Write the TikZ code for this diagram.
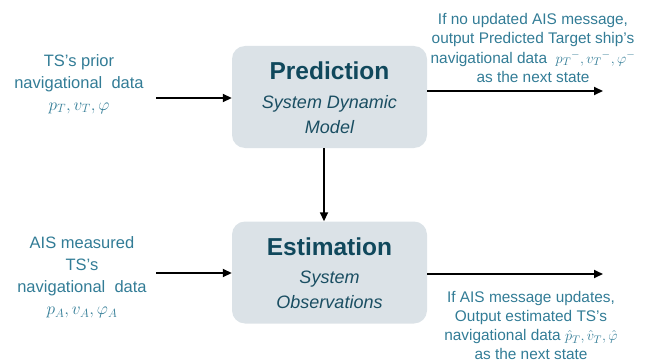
\documentclass[tikz,border=0pt]{standalone}
\usepackage{fontspec}
\setmainfont{Liberation Sans}
\usetikzlibrary{arrows.meta}
\definecolor{tealtext}{RGB}{50,124,150}
\definecolor{boxfill}{RGB}{219,226,231}
\definecolor{boxtitle}{RGB}{16,72,92}
\definecolor{boxsub}{RGB}{26,78,98}
\tikzset{
  stagebox/.style={fill=boxfill, draw=none, rounded corners=13pt,
    minimum width=195pt, minimum height=102pt, inner sep=0pt},
  titletext/.style={text=boxtitle, font=\fontsize{24.5}{28}\selectfont\bfseries},
  subtext/.style={text=boxsub, align=center,
    font=\fontsize{18}{25.5}\selectfont\itshape},
  sidetext/.style={text=tealtext, align=center, inner sep=0pt,
    font=\fontsize{16.5}{22}\selectfont},
  outtext/.style={text=tealtext, align=center, inner sep=0pt,
    font=\fontsize{15.4}{19.3}\selectfont},
  flow/.style={line width=1.7pt, -{Triangle[length=9pt,width=8pt]}}
}
\begin{document}
\begin{tikzpicture}[x=1pt,y=-1pt]
\useasboundingbox (0,0) rectangle (648,361);

% stage boxes
\node[stagebox] (pred) at (329.5,97) {};
\node[stagebox] (est) at (329.5,272.5) {};

\node[titletext] (predT) at (329.5,71) {Prediction};
\node[subtext] (predS) at (329.5,114.5) {System Dynamic\\Model};
\node[titletext] (estT) at (329.5,247) {Estimation};
\node[subtext] (estS) at (329.5,290) {System\\Observations};

% inputs
\node[sidetext] (inA) at (79,84) {TS’s prior\\navigational\ \ data\\$p_T, v_T, \varphi$};
\node[sidetext] (inB) at (82,277.5) {AIS measured\\TS’s\\navigational\ \ data\\$p_A, v_A, \varphi_A$};

% outputs
\node[outtext] (outA) at (533,48) {If no updated AIS message,\\output Predicted Target ship's\\navigational data\ \ $p_T{}^-, v_T{}^-, \varphi^-$\\as the next state};
\node[outtext] (outB) at (531,325.5) {If AIS message updates,\\Output estimated TS’s\\navigational data\ $\hat{p}_T, \hat{v}_T, \hat{\varphi}$\\as the next state};

% arrow end points
\coordinate (a1) at (156,98);
\coordinate (a2) at (156,273);
\coordinate (b1) at (603,91);
\coordinate (b2) at (603,274);

\draw[flow] (a1) -- (a1 -| pred.west);
\draw[flow] (a2) -- (a2 -| est.west);
\draw[flow] (b1 -| pred.east) -- (b1);
\draw[flow] (b2 -| est.east) -- (b2);
\draw[flow] (pred.south -| 324,0) -- (est.north -| 324,0);
\end{tikzpicture}
\end{document}
